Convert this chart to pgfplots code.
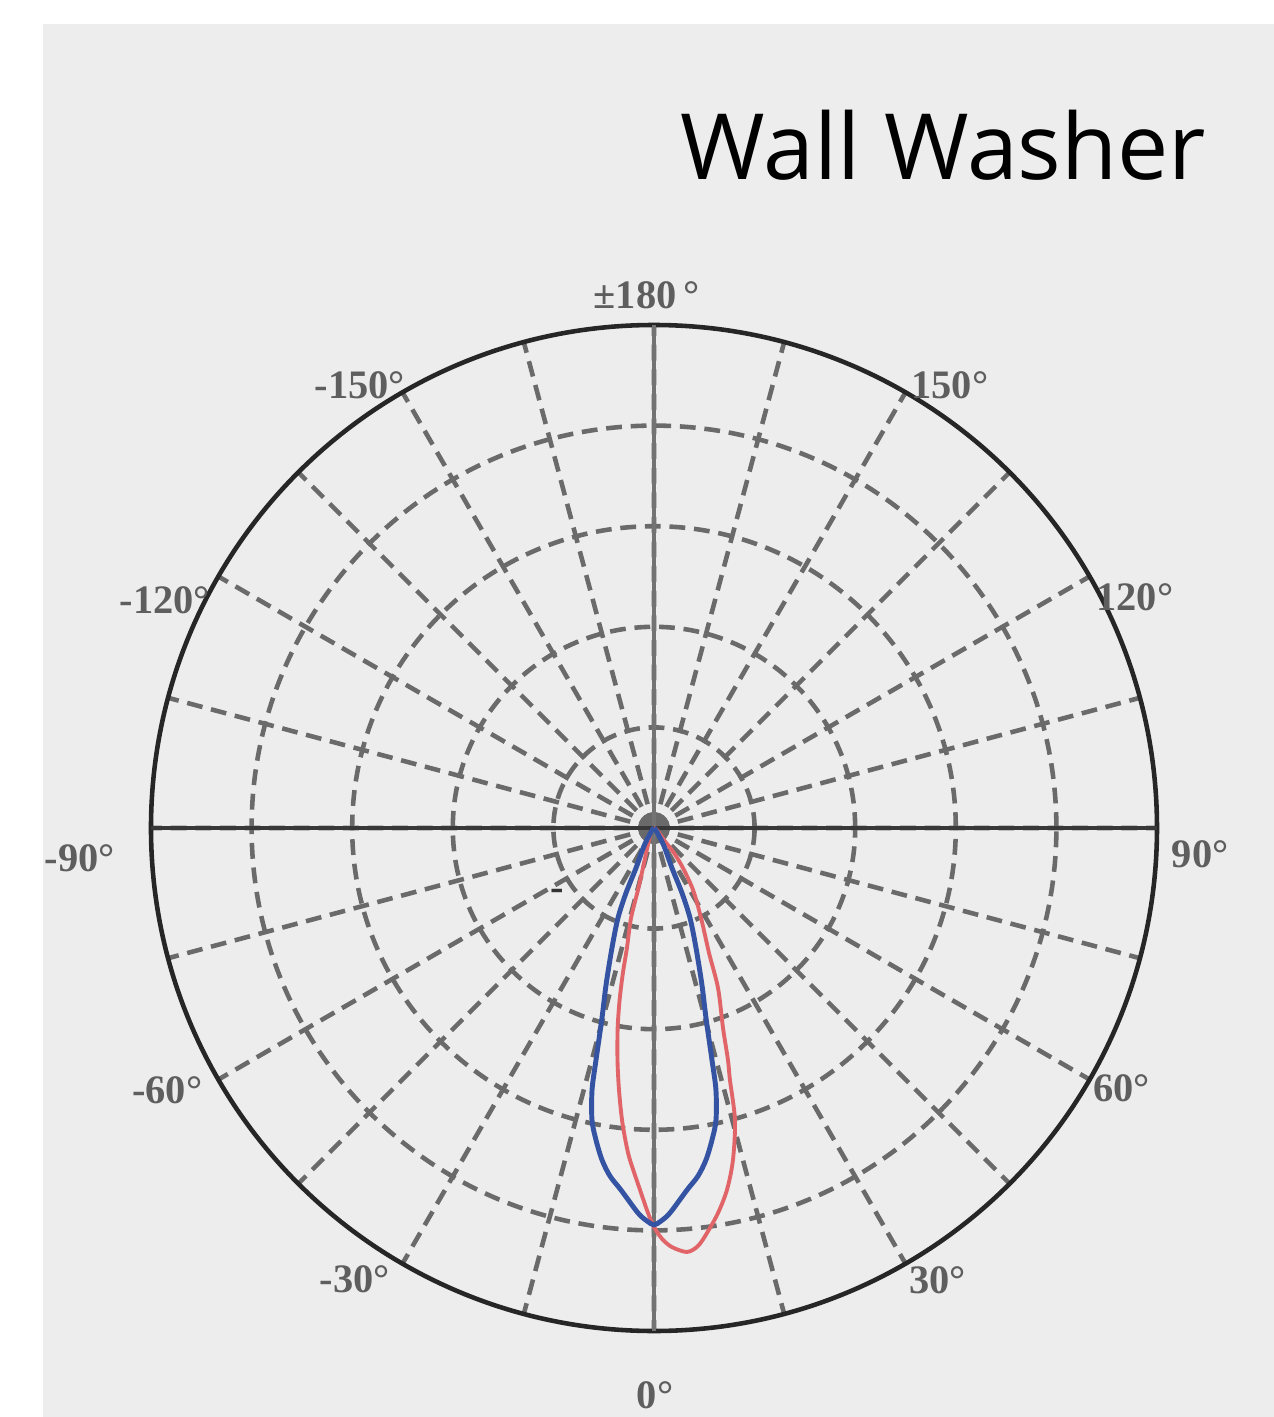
\documentclass[border=0pt]{standalone}
\usepackage{pgfplots}
\pgfplotsset{compat=1.18}
\usepgfplotslibrary{polar}
\usepackage{fontspec}
\setmainfont{Liberation Serif}
\newfontfamily\titlefont{Open Sans}

\definecolor{panel}{HTML}{ECEDEC}
\definecolor{gridgray}{HTML}{6A6A6A}
\definecolor{lblgray}{HTML}{5E5E5E}
\definecolor{curveblue}{HTML}{3553A3}
\definecolor{curvered}{HTML}{E06468}

\begin{document}
\begin{tikzpicture}[
	lbl/.style={text=lblgray, font=\bfseries\fontsize{11.5}{13}\selectfont, inner sep=0pt},
]
\path[use as bounding box, fill=white] (0,0) rectangle (127.4mm,141.7mm);
\fill[panel] (4.3mm,0) rectangle (127.4mm,139.3mm);
\node[anchor=base west, inner sep=0pt, font=\titlefont\fontsize{26}{28}\selectfont]
  at (68mm,123.7mm) {Wall Washer};

\begin{polaraxis}[
	at={(65.4mm,58.9mm)}, anchor=center,
	scale only axis,
	width=100.6mm, height=100.6mm,
	ymin=0, ymax=100,
	xtick={0,30,...,330},
	minor xtick={15,45,...,345},
	ytick={20,40,60,80},
	xticklabels={}, yticklabels={},
	major tick length=0pt, minor tick length=0pt,
	xmajorgrids, xminorgrids, ymajorgrids,
	grid style={gridgray, line width=1.3pt, dash pattern=on 4.5pt off 2.5pt},
	minor grid style={gridgray, line width=1.3pt, dash pattern=on 4.5pt off 2.5pt},
	extra x ticks={90,270},
	extra x tick labels={},
	extra x tick style={grid style={solid, gray!90!black, line width=1pt}},
	axis line style={black!85, line width=1.3pt},
	clip=false,
]
% horizontal axis line
\draw[black!78, line width=1.4pt] (axis cs:0,100) -- (axis cs:180,100);

% red curve (tilted plane)
\addplot[curvered, line width=1.1pt, smooth, tension=0.5] coordinates {
(180,0) (230,0.6) (247.4,2.58) (254.6,8.25) (255.5,12.7) (255.7,18.5)
(257.3,24.5) (257.9,29.5) (258.7,34.9) (259.7,40.4) (261.06,46.7) (262.39,52.55)
(263.75,58.4) (264.92,62.9) (265.87,66.2) (267.79,72.0) (269.11,76.55) (270,79.3)
(271.12,81.7) (272.46,83.4) (274.45,84.55) (276.01,83.56) (277.46,81.2)
(279.44,77.6) (281.4,73.4) (283.38,67.85) (285.5,60.25) (286.78,52.3)
(287.69,48.4) (289.03,42.1) (291.8,34.3) (293.75,27.2) (297.6,20.2)
(302.2,14.6) (305.9,9.82) (308.7,6.37) (309.8,3.1) (330,0.6) (360,0)
};

% blue curve (symmetric plane)
\addplot[curveblue, line width=1.4pt, smooth, tension=0.5] coordinates {
(180,0) (220,0.3) (236.3,1.43) (241,4.1) (245.8,8.72) (246.7,14.1)
(248.2,19.3) (250.7,25.3) (253,32.6) (254.7,39.2) (255.96,47.5) (256.69,53.5)
(258.01,59.35) (259.47,63.1) (261.1,66.8) (262.79,69.74) (264.79,72.27)
(267.62,76.6) (268.98,78.15) (270,78.9) (271.02,78.15) (272.38,76.6)
(275.21,72.27) (277.21,69.74) (278.9,66.8) (280.53,63.1) (281.99,59.35)
(283.31,53.5) (284.04,47.5) (285.3,39.2) (287,32.6) (289.3,25.3)
(291.8,19.3) (293.3,14.1) (294.2,8.72) (299,4.1) (303.7,1.43) (320,0.3) (360,0)
};

% angle labels
\node[lbl] at (axis cs:90.8,106) {±180\,°};
\node[lbl] at (axis cs:56.25,105.9) {150°};
\node[lbl] at (axis cs:123.6,105.7) {-150°};
\node[lbl] at (axis cs:25.6,106) {120°};
\node[lbl] at (axis cs:155,107.3) {-120°};
\node[lbl] at (axis cs:357.2,108.7) {90°};
\node[lbl] at (axis cs:183,114.3) {-90°};
\node[lbl] at (axis cs:330.95,106.4) {60°};
\node[lbl] at (axis cs:208.3,109.9) {-60°};
\node[lbl] at (axis cs:302.1,106.1) {30°};
\node[lbl] at (axis cs:236.5,107.7) {-30°};
\node[lbl] at (axis cs:270.1,112.7) {0°};
\node[lbl, text=black!80] at (axis cs:214.6,23.4) {-};
\end{polaraxis}
\end{tikzpicture}
\end{document}
